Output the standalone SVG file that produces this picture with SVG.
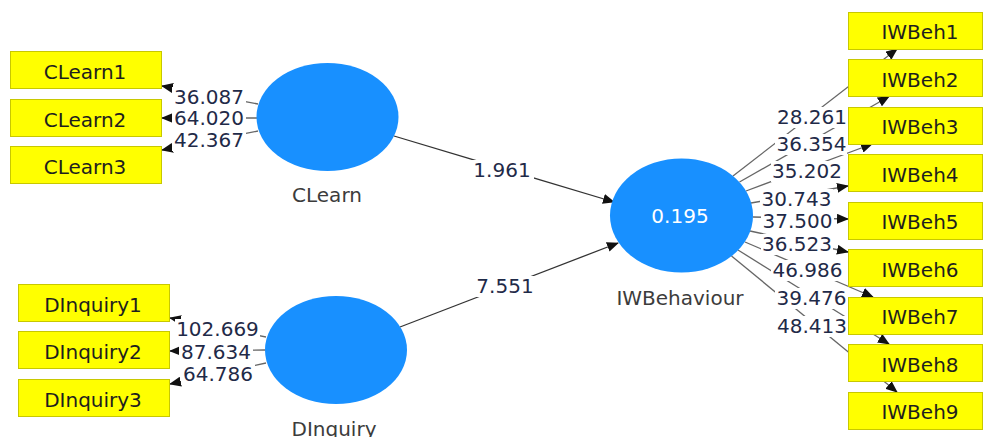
<svg xmlns="http://www.w3.org/2000/svg" width="987" height="437" viewBox="0 0 987 437">
<style>
.box{fill:#ffff00;stroke:#c8c800;stroke-width:1}
.lv{fill:#1890ff}
.t{font-family:"DejaVu Sans","Liberation Sans",sans-serif;font-size:20px;text-anchor:middle}
.bt{fill:#1e1e1e}
.num{fill:#1f2a48}
.lbl{fill:#3c3c3c}
.bg{fill:#ffffff}
.ind{stroke:#666;stroke-width:1.3;fill:none}
.str{stroke:#333;stroke-width:1.3;fill:none}
</style>
<defs>
<marker id="arr" markerWidth="12" markerHeight="10" refX="11" refY="5" orient="auto" markerUnits="userSpaceOnUse">
<path d="M0,0 L12,5 L0,10 z" fill="#111"/>
</marker>
</defs>
<rect width="987" height="437" fill="#fff"/>
<g id="connectors">
<line class="ind" x1="258" y1="104" x2="162" y2="86" marker-end="url(#arr)"/>
<line class="ind" x1="257" y1="118" x2="162" y2="118" marker-end="url(#arr)"/>
<line class="ind" x1="258" y1="131" x2="162" y2="150" marker-end="url(#arr)"/>
<line class="ind" x1="266" y1="337" x2="170" y2="318" marker-end="url(#arr)"/>
<line class="ind" x1="265" y1="350" x2="170" y2="351" marker-end="url(#arr)"/>
<line class="ind" x1="266" y1="363" x2="170" y2="384" marker-end="url(#arr)"/>
<line class="str" x1="394" y1="136" x2="614" y2="202" marker-end="url(#arr)"/>
<line class="str" x1="400" y1="327" x2="618" y2="243" marker-end="url(#arr)"/>
<line class="ind" x1="733" y1="176" x2="897" y2="49" marker-end="url(#arr)"/>
<line class="ind" x1="739.5" y1="182" x2="889" y2="96.5" marker-end="url(#arr)"/>
<line class="ind" x1="746" y1="191" x2="872" y2="144" marker-end="url(#arr)"/>
<line class="ind" x1="751" y1="203" x2="848" y2="186" marker-end="url(#arr)"/>
<line class="ind" x1="753" y1="217" x2="848" y2="219" marker-end="url(#arr)"/>
<line class="ind" x1="750" y1="231" x2="848" y2="252" marker-end="url(#arr)"/>
<line class="ind" x1="745" y1="242" x2="873" y2="297" marker-end="url(#arr)"/>
<line class="ind" x1="738" y1="250" x2="889" y2="344" marker-end="url(#arr)"/>
<line class="ind" x1="731.5" y1="256" x2="897" y2="392" marker-end="url(#arr)"/>
<g id="connector-labels">
<rect class="bg" x="172" y="87" width="74" height="21"/><text class="t num" x="209" y="104">36.087</text>
<rect class="bg" x="172" y="108" width="74" height="21"/><text class="t num" x="209" y="125">64.020</text>
<rect class="bg" x="172" y="130" width="74" height="21"/><text class="t num" x="209" y="147">42.367</text>
<rect class="bg" x="175" y="319" width="85" height="21"/><text class="t num" x="217.5" y="336">102.669</text>
<rect class="bg" x="179" y="342" width="74" height="21"/><text class="t num" x="216" y="359">87.634</text>
<rect class="bg" x="181" y="364" width="74" height="21"/><text class="t num" x="218" y="381">64.786</text>
<rect class="bg" x="470" y="160" width="64" height="21"/><text class="t num" x="502" y="177">1.961</text>
<rect class="bg" x="473" y="276" width="64" height="21"/><text class="t num" x="505" y="293">7.551</text>
<rect class="bg" x="776" y="107" width="72" height="21"/><text class="t num" x="812" y="124">28.261</text>
<rect class="bg" x="775" y="134" width="72" height="21"/><text class="t num" x="811.5" y="151">36.354</text>
<rect class="bg" x="771" y="161" width="72" height="21"/><text class="t num" x="807" y="178">35.202</text>
<rect class="bg" x="760" y="189" width="73" height="21"/><text class="t num" x="796.5" y="206">30.743</text>
<rect class="bg" x="761" y="211" width="73" height="21"/><text class="t num" x="797.5" y="228">37.500</text>
<rect class="bg" x="761" y="234" width="72" height="21"/><text class="t num" x="797" y="251">36.523</text>
<rect class="bg" x="771" y="260" width="73" height="21"/><text class="t num" x="807.5" y="277">46.986</text>
<rect class="bg" x="775" y="288" width="72" height="21"/><text class="t num" x="811.5" y="305">39.476</text>
<rect class="bg" x="776" y="316" width="72" height="21"/><text class="t num" x="812" y="333">48.413</text>
</g>
</g>
<g id="CLearn1"><rect class="box" x="10.5" y="51.5" width="151" height="37"/><text class="t bt" x="85" y="79">CLearn1</text></g>
<g id="CLearn2"><rect class="box" x="10.5" y="99.5" width="151" height="37"/><text class="t bt" x="85" y="127">CLearn2</text></g>
<g id="CLearn3"><rect class="box" x="10.5" y="146.5" width="151" height="37"/><text class="t bt" x="85" y="174">CLearn3</text></g>
<g id="DInquiry1"><rect class="box" x="18.5" y="284.5" width="151" height="37"/><text class="t bt" x="93" y="312">DInquiry1</text></g>
<g id="DInquiry2"><rect class="box" x="18.5" y="331.5" width="151" height="37"/><text class="t bt" x="93" y="359">DInquiry2</text></g>
<g id="DInquiry3"><rect class="box" x="18.5" y="379.5" width="151" height="37"/><text class="t bt" x="93" y="407">DInquiry3</text></g>
<g id="CLearn"><ellipse class="lv" cx="327.5" cy="117" rx="71" ry="54"/><text class="t lbl" x="327" y="202">CLearn</text></g>
<g id="DInquiry"><ellipse class="lv" cx="336" cy="350" rx="71" ry="54"/><text class="t lbl" x="334" y="436">DInquiry</text></g>
<g id="IWBehaviour"><ellipse class="lv" cx="681.5" cy="215.5" rx="71.5" ry="57"/><text class="t" x="680" y="223" fill="#ffffff">0.195</text><text class="t lbl" x="680" y="305">IWBehaviour</text></g>
<g id="IWBeh1"><rect class="box" x="848.5" y="12.5" width="134" height="37"/><text class="t bt" x="920" y="39">IWBeh1</text></g>
<g id="IWBeh2"><rect class="box" x="848.5" y="59.5" width="134" height="37"/><text class="t bt" x="920" y="87">IWBeh2</text></g>
<g id="IWBeh3"><rect class="box" x="848.5" y="107.5" width="134" height="37"/><text class="t bt" x="920" y="134">IWBeh3</text></g>
<g id="IWBeh4"><rect class="box" x="848.5" y="154.5" width="134" height="37"/><text class="t bt" x="920" y="182">IWBeh4</text></g>
<g id="IWBeh5"><rect class="box" x="848.5" y="202.5" width="134" height="37"/><text class="t bt" x="920" y="229">IWBeh5</text></g>
<g id="IWBeh6"><rect class="box" x="848.5" y="249.5" width="134" height="37"/><text class="t bt" x="920" y="277">IWBeh6</text></g>
<g id="IWBeh7"><rect class="box" x="848.5" y="297.5" width="134" height="37"/><text class="t bt" x="920" y="324">IWBeh7</text></g>
<g id="IWBeh8"><rect class="box" x="848.5" y="344.5" width="134" height="37"/><text class="t bt" x="920" y="372">IWBeh8</text></g>
<g id="IWBeh9"><rect class="box" x="848.5" y="392.5" width="134" height="37"/><text class="t bt" x="920" y="419">IWBeh9</text></g>
</svg>
